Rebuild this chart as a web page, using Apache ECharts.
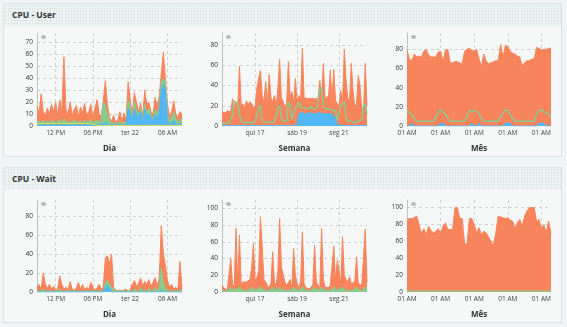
<!DOCTYPE html>
<html>
<head>
<meta charset="utf-8">
<script src="https://cdn.jsdelivr.net/npm/echarts@6/dist/echarts.min.js"></script>
<style>
  html, body { margin: 0; padding: 0; width: 567px; height: 327px; overflow: hidden;
    background: #f1f4f4; font-family: "Open Sans", "Noto Sans", sans-serif; }
  .box { position: absolute; left: 3px; width: 559px; box-sizing: border-box;
    border: 1px solid #dbe3e3; background: #f6f8f8; }
  .hdr { height: 22px; line-height: 22px; padding-left: 8px; font-size: 8.5px; font-weight: bold; color: #333;
    background-color: #eef3f3;
    background-image: radial-gradient(circle, #d9e3e3 0.9px, transparent 1.1px);
    background-size: 3px 3px; }
  #chart { position: absolute; left: 0; top: 0; width: 567px; height: 327px; }
</style>
</head>
<body>
<div class="box" style="top:3px;height:154px"><div class="hdr">CPU - User</div></div>
<div class="box" style="top:167px;height:156px"><div class="hdr">CPU - Wait</div></div>
<div id="chart"></div>
<script>
// ---- CPU - User, last day (20 min samples) ----
const userDayA = [17,10,27,12,9,15,10,18,12,20,9,22,12,58,14,10,20,9,14,17,8,16,11,19,9,12,18,7,15,22,10,8,21,38,18,7,4,9,3,5,12,4,11,5,37,22,10,28,20,12,19,8,30,18,20,12,10,24,17,25,44,62,40,18,8,12,21,10,7,12,10];
const userDayB = [3,4,3,5,3,4,3,5,4,3,4,5,3,6,4,3,4,3,5,4,3,4,3,5,3,4,5,3,4,5,3,5,20,18,10,5,2,3,2,2,4,2,3,3,22,18,5,20,14,10,15,5,18,12,14,10,5,14,10,16,38,40,36,10,3,8,12,6,3,6,5];
const userDayC = [1,1,1,1,1,1,1,1,1,1,1,1,1,1,1,1,1,1,1,1,1,1,1,1,1,1,1,1,1,1,1,2,2,3,2,1,1,1,1,1,1,1,1,1,15,12,4,14,10,8,12,3,14,9,10,8,3,10,6,12,30,35,30,5,1,3,5,2,1,2,2];
const userDayD = [1.5,2,1.8,2.2,2,1.6,2,2.3,1.8,2,2.2,1.7,2,2.4,1.9,2,2.1,1.7,2,2.2,1.8,2,1.6,2.1,1.9,2,1.7,1.5,1,0.6,0.5,0.5,0.5,0.5,0.5,0.5,0.4,0.4,0.4,0.4,0.4,0.4,0.4,0.4,0.5,0.5,0.5,0.5,0.5,0.5,0.5,0.5,0.5,0.5,0.5,0.5,0.5,0.5,0.5,0.5,0.5,0.5,0.5,0.5,0.5,0.5,0.5,0.5,0.5,0.5,0.5];

// ---- CPU - User, last week (2 h samples) ----
const userWeekA = [14,15,13,15,16,14,27,17,24,19,59,20,22,18,25,21,24,22,18,20,38,47,55,30,24,44,22,51,28,24,30,20,37,66,28,24,19,22,64,29,34,22,47,24,30,26,77,28,28,27,28,27,26,27,26,27,45,26,62,27,28,30,55,27,56,25,22,20,35,22,76,45,28,24,62,35,19,22,50,40,18,15,62,20];
const userWeekB = [2,2,3,2,3,3,10,25,24,22,12,5,4,3,3,4,3,3,3,4,5,18,20,6,4,5,4,5,4,3,4,5,18,20,8,5,4,5,24,20,6,5,18,20,24,18,19,18,19,17,18,19,17,18,17,18,36,38,20,17,16,17,18,16,17,15,6,5,20,22,24,8,5,4,5,4,3,4,5,4,6,20,22,12];
const userWeekC = [0.5,0.5,0.5,0.5,0.5,0.5,0.5,0.5,0.5,0.5,0.5,0.5,0.5,0.5,0.5,0.5,0.5,0.5,0.5,0.5,0.5,0.5,0.5,0.5,0.5,0.5,0.5,0.5,0.5,0.5,0.5,0.5,0.5,0.5,0.5,0.5,0.5,0.5,0.5,0.5,0.5,0.5,0.5,3,12,13,14,12,13,12,13,14,12,13,12,13,14,12,13,12,13,12,13,12,11,8,2,0.5,0.5,0.5,0.5,0.5,0.5,0.5,0.5,0.5,0.5,0.5,0.5,0.5,0.5,0.5,0.5,0.5];

// ---- CPU - User, last month (12 h samples) ----
const userMonthA = [79,70,68,75,72,73,72,78,80,74,72,72,72,77,78,67,79,80,66,66,67,67,66,65,78,80,81,79,78,80,70,62,75,68,65,66,67,68,68,85,72,84,83,78,76,75,73,72,63,66,68,68,70,70,82,81,79,80,80,81,81];
const userMonthB = [16,14,12,8,5,5,5,5,5,5,5,5,10,14,17,15,12,8,5,5,5,5,5,5,5,10,16,16,16,15,12,8,5,5,5,5,5,5,5,10,13,17,16,12,8,5,5,5,5,5,5,5,5,5,13,16,17,15,14,12,10];
const userMonthC = [0,0,3,0,0,0,0,0,0,0,0,0,0,0,3,3,0,0,0,0,0,0,0,0,0,0,0,3,0,0,3,0,0,0,0,0,0,0,0,0,0,3,3,3,0,0,0,0,0,0,0,0,0,0,0,3,3,3,0,0,0];

// ---- CPU - Wait, last day ----
const waitDayA = [5,8,3,20,9,4,8,3,6,2,4,17,8,3,5,2,11,3,2,4,10,3,8,2,5,3,10,5,2,4,8,3,5,36,38,30,40,4,2,1,2,1,2,3,1,2,8,12,6,9,15,6,11,8,13,6,10,15,7,14,70,40,28,12,5,8,3,5,2,32,5];
const waitDayB = [1,1,1,3,1,1,1,1,1,1,1,3,1,1,1,1,1,1,1,1,1,1,1,1,1,1,1,1,1,1,1,1,1,10,12,8,6,1,1,1,1,1,1,1,1,1,1,3,1,1,5,1,1,1,4,1,1,5,1,6,25,10,5,1,1,1,1,1,1,2,1];
const waitDayC = [0,0,0,0,0,0,0,0,0,0,0,0,0,0,0,0,0,0,0,0,0,0,0,0,0,0,0,0,0,0,0,0,0,5,7,4,0,0,0,0,0,0,0,0,0,0,0,0,0,0,0,0,0,0,0,0,0,0,0,0,2,0,0,0,0,0,0,0,0,0,0];

// ---- CPU - Wait, last week ----
const waitWeekA = [8,5,3,2,4,40,10,5,76,12,68,8,12,14,12,13,15,30,58,12,18,25,90,54,15,12,8,5,10,48,12,8,25,88,30,30,12,8,10,15,5,52,20,10,5,12,72,10,5,3,4,6,8,56,12,8,5,76,15,6,4,5,8,10,55,12,38,25,10,66,20,15,12,18,10,8,12,42,10,12,8,10,75,12];
const waitWeekB = [2,2,1,1,3,6,3,2,3,2,6,3,2,2,2,2,3,6,3,2,3,3,6,3,2,2,2,2,3,6,3,2,3,6,3,2,2,2,2,3,3,6,3,2,2,3,6,3,2,2,2,2,3,6,3,2,3,6,3,2,2,2,2,3,6,3,2,3,3,6,3,2,2,2,2,2,3,6,3,2,2,3,6,3];

// ---- CPU - Wait, last month ----
const waitMonthA = [86,87,87,88,90,80,70,75,68,78,73,70,72,75,70,78,82,74,74,74,100,100,87,87,57,57,87,87,80,70,76,68,72,70,65,60,55,70,90,89,88,87,88,85,84,75,82,86,78,90,96,100,100,100,83,86,75,80,70,84,70];
const waitMonthB = [1,1,1,1,1,1,1,1,1,1,1,1,1,1,1,1,1,1,1,1,1,1,1,1,1,1,1,1,1,1,1,1,1,1,1,1,1,1,1,1,1,1,1,1,1,1,1,1,1,1,1,1,1,1,1,1,1,1,1,1,1];

// ---- tick labels ----
const dayTicks = { '12:00': '12 PM', '18:00': '06 PM', '00:00': 'ter 22', '06:00': '06 AM' };
const weekTicks = { 'qui 17 00h': 'qui 17', 'sáb 19 00h': 'sáb 19', 'seg 21 00h': 'seg 21' };
const monthTicks = { '23/08 01h': '01 AM', '30/08 01h': '01 AM', '06/09 01h': '01 AM', '13/09 01h': '01 AM', '20/09 01h': '01 AM' };

// ---- sample times for each range ----
const weekdays = ['dom', 'seg', 'ter', 'qua', 'qui', 'sex', 'sáb'];
const p2 = n => String(n).padStart(2, '0');
function sampleTimes(start, stepMin, n, fmt) {
  const out = [];
  for (let i = 0; i < n; i++) out.push(fmt(new Date(start.getTime() + i * stepMin * 60000)));
  return out;
}
const dayCats = sampleTimes(new Date(2015, 8, 21, 9, 0), 20, userDayA.length,
  d => p2(d.getHours()) + ':' + p2(d.getMinutes()));
const weekCats = sampleTimes(new Date(2015, 8, 15, 10, 0), 120, userWeekA.length,
  d => weekdays[d.getDay()] + ' ' + p2(d.getDate()) + ' ' + p2(d.getHours()) + 'h');
const monthCats = sampleTimes(new Date(2015, 7, 23, 1, 0), 720, userMonthA.length,
  d => p2(d.getDate()) + '/' + p2(d.getMonth() + 1) + ' ' + p2(d.getHours()) + 'h');

const ORANGE = '#f8845b', GREEN = '#8cc98c', BLUE = '#52b6f2', YELLOW = '#e6dc45';
const GRIDLINE = { type: [3, 3], color: '#cbd2d2', width: 1 };
const FONT = '"Open Sans", "Noto Sans", sans-serif';

function xAxisFor(gridIndex, cats, ticks, name) {
  const isTick = i => Object.prototype.hasOwnProperty.call(ticks, cats[i]);
  return {
    type: 'category', gridIndex, data: cats, boundaryGap: false,
    name, nameLocation: 'middle', nameGap: 19,
    nameTextStyle: { fontSize: 8, fontWeight: 'bold', color: '#333', fontFamily: FONT },
    axisLine: { show: false }, axisTick: { show: false, interval: isTick },
    axisLabel: { interval: isTick, formatter: v => ticks[v] || '', fontSize: 6.5, color: '#444',
      margin: 4, fontFamily: FONT, hideOverlap: false },
    splitLine: { show: true, interval: isTick, lineStyle: GRIDLINE }
  };
}
function yAxisFor(gridIndex, max, interval) {
  return {
    type: 'value', gridIndex, min: 0, max, interval,
    name: '%', nameLocation: 'end', nameGap: -7,
    nameTextStyle: { fontSize: 6, color: '#666', align: 'left', padding: [0, 0, 0, 4], fontStyle: 'italic', fontFamily: FONT },
    axisLine: { show: true, lineStyle: { color: '#b5c4c4' } }, axisTick: { show: false },
    axisLabel: { fontSize: 6.5, color: '#333', margin: 4, fontFamily: FONT,
      formatter: v => (v % interval === 0 ? String(v) : '') },
    splitLine: { show: true, showMaxLine: false, showMinLine: false, lineStyle: GRIDLINE }
  };
}
function series(axis, data, color, filled, width) {
  return {
    type: 'line', xAxisIndex: axis, yAxisIndex: axis, data, symbol: 'none', silent: true,
    lineStyle: { width: width || 1, color }, itemStyle: { color },
    areaStyle: filled ? { color, opacity: 1 } : undefined
  };
}

const cols = [37, 222, 407];
const widths = [145, 145, 144];
const grids = [];
for (let r = 0; r < 2; r++) for (let c = 0; c < 3; c++) {
  grids.push({ left: cols[c], width: widths[c], top: r === 0 ? 33 : 200, height: r === 0 ? 93 : 92 });
}

const option = {
  animation: false,
  backgroundColor: 'transparent',
  textStyle: { fontFamily: FONT },
  grid: grids,
  xAxis: [
    xAxisFor(0, dayCats, dayTicks, 'Dia'),
    xAxisFor(1, weekCats, weekTicks, 'Semana'),
    xAxisFor(2, monthCats, monthTicks, 'Mês'),
    xAxisFor(3, dayCats, dayTicks, 'Dia'),
    xAxisFor(4, weekCats, weekTicks, 'Semana'),
    xAxisFor(5, monthCats, monthTicks, 'Mês')
  ],
  yAxis: [
    yAxisFor(0, 78, 10), yAxisFor(1, 92, 20), yAxisFor(2, 97, 20),
    yAxisFor(3, 97, 20), yAxisFor(4, 110, 20), yAxisFor(5, 109, 20)
  ],
  series: [
    series(0, userDayA, ORANGE, true), series(0, userDayB, GREEN, true),
    series(0, userDayC, BLUE, true), series(0, userDayD, YELLOW, false),
    series(1, userWeekA, ORANGE, true), series(1, userWeekC, BLUE, true),
    series(1, userWeekB, GREEN, false, 1.5),
    series(2, userMonthA, ORANGE, true), series(2, userMonthC, BLUE, true),
    series(2, userMonthB, GREEN, false, 1.5),
    series(3, waitDayA, ORANGE, true), series(3, waitDayB, GREEN, true), series(3, waitDayC, BLUE, true),
    series(4, waitWeekA, ORANGE, true), series(4, waitWeekB, GREEN, true),
    series(5, waitMonthA, ORANGE, true), series(5, waitMonthB, GREEN, false, 1.2)
  ]
};

const chart = echarts.init(document.getElementById('chart'), null, { renderer: 'canvas' });
chart.setOption(option);
</script>
</body>
</html>
